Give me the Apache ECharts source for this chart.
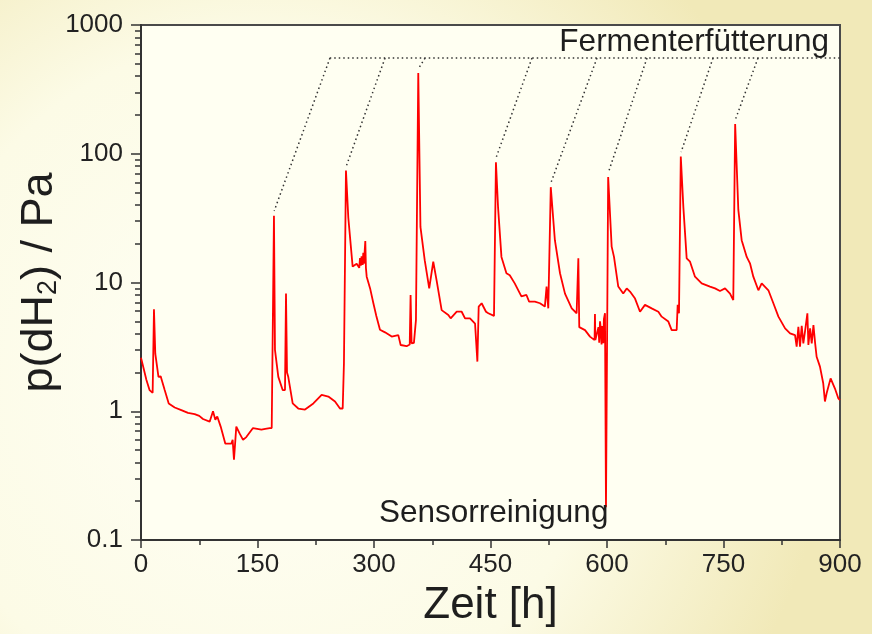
<!DOCTYPE html>
<html>
<head>
<meta charset="utf-8">
<script src="https://cdn.jsdelivr.net/npm/echarts@6/dist/echarts.min.js"></script>
<style>
    html, body { margin: 0; padding: 0; }
    #main { width: 872px; height: 634px; }
</style>
</head>
<body>
<div id="main"></div>
<script>
    // Messwerte: Zeit [h] und p(dH2) [Pa]
    var zeit = [0, 3, 7, 11, 15, 16.7, 18.4, 22.5, 25.3, 30.5, 35.7, 43.4, 51.9, 60.5, 69.1, 75, 79.8, 88.4, 92.7, 95.7,
        98.2, 102.6, 108.6, 116.3, 118, 119.7, 122.7, 127.1, 131.4, 135.6, 144.2, 155, 160, 165.7, 168.3, 171.2, 172.5, 176.8, 182.4, 185.4,
        186.7, 188, 189.6, 195.3, 202.5, 211.2, 221.9, 232.6, 241.2, 249.8, 256.2, 259.7, 261.3, 263.9, 266.9, 272.5, 277.7,
        280, 281, 282, 283, 284, 285.4, 286.2, 287, 288.8, 289.6, 290.6,
        295, 299.2, 303, 307.7, 314.2, 322.8, 331.3, 334.3, 342, 346, 347.1, 348.4, 351.4, 354, 357, 359.8, 365.3, 371.1,
        376.3, 380.6, 387.1, 395.7, 398.7, 406.5, 412.9, 417.2, 423.6, 430.1, 433.1, 434.8, 438.6, 444.2, 447.2, 454.5, 457, 459.7, 464.1, 470.5,
        474.8, 481.2, 489.8, 496.3, 499.7, 507.1, 513.7, 520, 522.2, 524.4, 527.6, 532.9, 539.5, 545.9, 554.6, 560.9, 563.1, 564.3, 571.7, 578.1,
        584, 584.5, 585, 587.5, 589, 590, 591, 591.8, 593, 594, 595.2, 596, 597.4, 598.7,
        601.5, 606, 609, 614.5, 620.9, 625.4, 629.6, 636.1, 642.5, 648.9, 657.5,
        666.1, 670.4, 679, 683.3, 689.7, 691, 692.7, 695, 698.3, 702.6, 706.9, 713.3, 721.9, 732.6, 739.1, 745.5, 752, 758.4, 762.6, 765,
        769.1, 773.4, 779.9, 784.1, 788.4, 794.9, 799.2, 807.8, 814.2, 820.7, 829.3, 835.7, 842.1, 844.2, 846.4, 848.5, 850.7, 852.8, 855, 858,
        859.3, 861.5, 863.6, 865.8, 868, 869.9, 874.2, 878.4, 880.6, 882.8, 887.9, 893.5, 897.8, 900];
    var druck = [2.6, 2.2, 1.75, 1.46, 1.39, 6.2, 2.8, 1.85, 1.87, 1.46, 1.15, 1.07, 1.02, 0.97, 0.95, 0.92, 0.87, 0.83, 1.0, 0.86,
        0.91, 0.76, 0.56, 0.56, 0.6, 0.42, 0.76, 0.67, 0.6, 0.63, 0.74, 0.72, 0.73, 0.74, 0.74, 33, 3.0, 1.85, 1.46, 1.46,
        8.2, 2.0, 1.85, 1.15, 1.05, 1.03, 1.15, 1.34, 1.3, 1.19, 1.05, 1.05, 2.36, 74, 32, 13.3, 14,
        14.5, 13, 15.5, 13.5, 16, 13.7, 17, 14, 21, 13, 11.1,
        9.0, 6.9, 5.5, 4.3, 4.1, 3.8, 3.9, 3.27, 3.2, 3.3, 8.0, 3.37, 3.4, 5.1, 424, 27, 14.9, 9.0,
        14.5, 10.4, 6.1, 5.6, 5.27, 5.93, 5.93, 5.27, 5.27, 4.8, 2.43, 6.5, 6.9, 5.93, 5.77, 5.5, 86, 38.7, 15.8, 11.8,
        11.4, 9.85, 7.8, 8.0, 7.1, 7.1, 6.9, 6.5, 9.3, 6.3, 55, 21.3, 11.8, 8.2, 6.3, 5.77, 15.4, 4.5, 4.27, 3.8,
        3.57, 5.7, 3.57, 3.47, 4.5, 3.4, 5.0, 4.5, 3.3, 4.6, 3.37, 5.2, 5.77, 0.18,
        66, 19, 15.8, 9.3, 8.2, 9.0, 8.5, 7.5, 5.93, 6.7, 6.3,
        5.93, 5.43, 4.97, 4.27, 4.27, 6.7, 5.77, 95, 38.7, 15.4, 14.5, 11.1, 9.85, 9.3, 9.0, 8.6, 9.0, 8.2, 7.3, 170,
        36.6, 21.3, 15.8, 14.1, 11.1, 8.7, 9.85, 8.7, 6.9, 5.43, 4.4, 4.03, 3.9, 3.17, 4.53, 3.17, 4.6, 3.37, 4.2, 5.77,
        3.27, 4.4, 3.37, 4.67, 3.37, 2.65, 2.22, 1.65, 1.19, 1.38, 1.8, 1.5, 1.26, 1.22];

    // Fütterungsmarkierungen (gepunktete Linien)
    var fuetterungNiveau = 554;
    var fuetterungStart = 243;
    var fuetterungOben = [243.3, 314.2, 365.7, 503.4, 587.1, 651.5, 736.5, 794.4];
    var fuetterungPeakZeit = [171.5, 264.3, 357.5, 457.4, 528, 601.9, 695.4, 765.4];
    var fuetterungPeakWert = [36, 80, 460, 94, 60, 72, 103, 185];

    var xTicks = [0, 150, 300, 450, 600, 750, 900];
    var yTicks = ['0.1', '1', '10', '100', '1000'];

    var schrift = "'Liberation Sans', Arial, sans-serif";

    var serie = zeit.map(function (t, i) { return [t, druck[i]]; });

    // Nebenstriche der log-Achse (2..9 je Dekade), als Exponent für die Hilfsachse
    var nebenStriche = [];
    for (var k = -1; k < 3; k++) {
        for (var m = 2; m < 10; m++) {
            nebenStriche.push(k + Math.log10(m));
        }
    }

    var punktLinie = { color: '#333', width: 1.5, type: [1.5, 3] };

    var seriesList = [{
        type: 'line',
        data: serie,
        showSymbol: false,
        lineStyle: { color: '#ff0000', width: 1.8 },
        z: 3,
        silent: true
    }, {
        type: 'line',
        data: [[fuetterungStart, fuetterungNiveau], [xTicks[xTicks.length - 1], fuetterungNiveau]],
        showSymbol: false,
        lineStyle: punktLinie,
        silent: true
    }];

    fuetterungOben.forEach(function (t, i) {
        seriesList.push({
            type: 'line',
            data: [[t, fuetterungNiveau], [fuetterungPeakZeit[i], fuetterungPeakWert[i]]],
            showSymbol: false,
            lineStyle: punktLinie,
            silent: true
        });
    });

    var chart = echarts.init(document.getElementById('main'));

    var option = {
        animation: false,
        backgroundColor: {
            type: 'radial', x: 0.3, y: 0.6, r: 0.9,
            colorStops: [
                { offset: 0, color: '#fffff6' },
                { offset: 0.6, color: '#fcfbe6' },
                { offset: 1, color: '#f1e9b8' }
            ]
        },
        textStyle: { fontFamily: schrift },
        grid: {
            left: 141, right: 32, top: 25, bottom: 94,
            show: true,
            backgroundColor: '#fffff2',
            borderColor: '#4a4a4a',
            borderWidth: 2
        },
        xAxis: {
            type: 'value',
            min: xTicks[0],
            max: xTicks[xTicks.length - 1],
            interval: xTicks[1] - xTicks[0],
            name: 'Zeit [h]',
            nameLocation: 'middle',
            nameGap: 44,
            nameTextStyle: { fontSize: 44, color: '#1e1e1e', fontFamily: schrift },
            axisLine: { onZero: false, lineStyle: { color: '#333', width: 2 } },
            axisTick: { show: true, length: 8, lineStyle: { color: '#333', width: 1.5 } },
            minorTick: { show: true, splitNumber: 2, length: 5, lineStyle: { color: '#333', width: 1.5 } },
            splitLine: { show: false },
            axisLabel: { fontSize: 26, color: '#222', margin: 12, fontFamily: schrift }
        },
        yAxis: [{
            type: 'log',
            logBase: 10,
            min: 0.1,
            max: 1000,
            name: 'p(dH{sub|2}) / Pa',
            nameLocation: 'middle',
            nameGap: 79,
            nameMoveOverlap: false,
            nameRotate: 90,
            nameTextStyle: {
                fontSize: 45, color: '#1e1e1e', fontFamily: schrift,
                rich: { sub: { fontSize: 27, verticalAlign: 'bottom', padding: [18, 0, 0, 0], fontFamily: schrift, color: '#1e1e1e' } }
            },
            axisLine: { show: true, onZero: false, lineStyle: { color: '#333', width: 2 } },
            axisTick: { show: true, length: 10, lineStyle: { color: '#333', width: 1.5 } },
            splitLine: { show: false },
            axisLabel: {
                fontSize: 26, color: '#222', margin: 18, fontFamily: schrift,
                formatter: function (v) {
                    var i = Math.round(Math.log10(v)) + 1;
                    return yTicks[i] !== undefined ? yTicks[i] : '';
                }
            }
        }, {
            // Hilfsachse (Exponent) nur für die Nebenstriche
            type: 'value',
            min: -1,
            max: 3,
            position: 'left',
            axisLine: { show: false, onZero: false },
            axisLabel: { show: false },
            splitLine: { show: false },
            axisTick: { show: true, length: 6, customValues: nebenStriche, lineStyle: { color: '#333', width: 1.5 } }
        }],
        graphic: [{
            type: 'text',
            right: 872 - 829,
            top: 26,
            style: { text: 'Fermenterfütterung', fill: '#1e1e1e', font: '31.5px ' + schrift },
            z: 10
        }, {
            type: 'text',
            left: 379,
            top: 497,
            style: { text: 'Sensorreinigung', fill: '#1e1e1e', font: '31.5px ' + schrift },
            z: 10
        }],
        series: seriesList
    };

    chart.setOption(option);
</script>
</body>
</html>
